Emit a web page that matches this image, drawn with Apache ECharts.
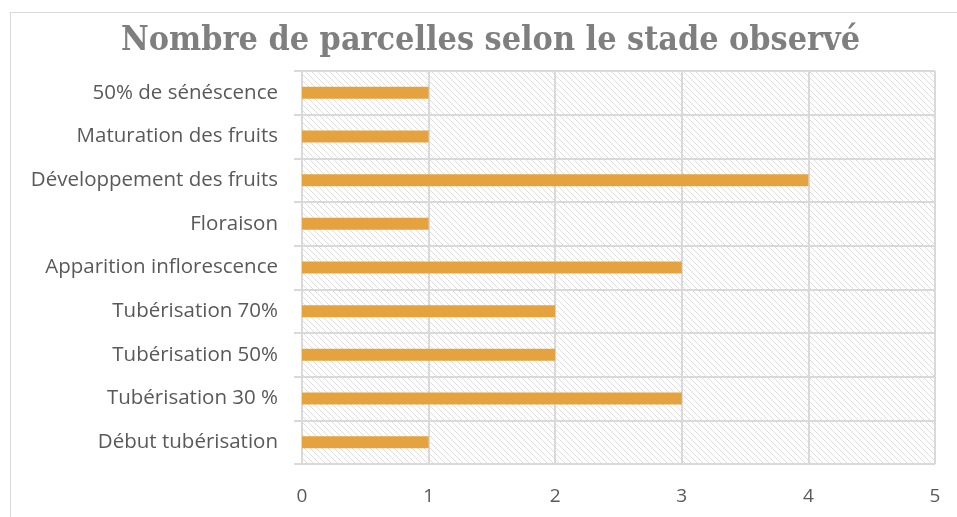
<!DOCTYPE html>
<html lang="fr">
<head>
    <meta charset="UTF-8">
    <title>Nombre de parcelles selon le stade observé</title>
    <script src="https://cdn.jsdelivr.net/npm/echarts@6/dist/echarts.min.js"></script>
    <style>
        html, body {
            margin: 0;
            padding: 0;
            background: #fff;
            overflow: hidden;
        }
        #frame {
            position: absolute;
            left: 10px;
            top: 12px;
            width: 1000px;
            height: 600px;
            border: 1px solid #d9d9d9;
        }
        #chart {
            position: absolute;
            left: 0;
            top: 0;
            width: 957px;
            height: 517px;
        }
    </style>
</head>
<body>
<div id="frame"></div>
<div id="chart"></div>
<script>
    var stades = ['50% de sénéscence', 'Maturation des fruits', 'Développement des fruits', 'Floraison',
        'Apparition inflorescence', 'Tubérisation 70%', 'Tubérisation 50%', 'Tubérisation 30 %', 'Début tubérisation'];
    var parcelles = [1, 1, 4, 1, 3, 2, 2, 3, 1];
    var xTicks = [0, 1, 2, 3, 4, 5];

    // hachures du fond
    function hatch() {
        var c = document.createElement('canvas');
        c.width = 6;
        c.height = 6;
        var ctx = c.getContext('2d');
        ctx.strokeStyle = '#dedede';
        ctx.lineWidth = 1;
        ctx.beginPath();
        ctx.moveTo(-1, -1);
        ctx.lineTo(7, 7);
        ctx.moveTo(-1, 5);
        ctx.lineTo(1, 7);
        ctx.moveTo(5, -1);
        ctx.lineTo(7, 1);
        ctx.stroke();
        return c;
    }

    var myChart = echarts.init(document.getElementById('chart'));
    myChart.setOption({
        animation: false,
        title: {
            text: 'Nombre de parcelles selon le stade observé',
            left: 116,
            top: 19,
            textStyle: {
                fontFamily: '"DejaVu Serif Condensed", "Liberation Serif", serif',
                fontWeight: 'bold',
                fontSize: 33.8,
                color: '#7f7f7f'
            }
        },
        grid: {
            left: 302,
            right: 22,
            top: 71,
            bottom: 53,
            show: true,
            borderWidth: 0,
            backgroundColor: {image: hatch(), repeat: 'repeat'}
        },
        xAxis: {
            type: 'value',
            min: xTicks[0],
            max: xTicks[xTicks.length - 1],
            interval: 1,
            axisLine: {show: false},
            axisTick: {show: false},
            axisLabel: {
                margin: 23,
                fontFamily: 'Open Sans',
                fontSize: 19,
                color: '#595959'
            },
            splitLine: {lineStyle: {color: '#d9d9d9', width: 2}}
        },
        yAxis: {
            type: 'category',
            data: stades,
            inverse: true,
            axisLine: {show: true, lineStyle: {color: '#d9d9d9', width: 2}},
            axisTick: {show: true, length: 8, lineStyle: {color: '#d9d9d9', width: 2}},
            axisLabel: {
                margin: 24,
                fontFamily: 'Open Sans',
                fontSize: 20.5,
                color: '#595959'
            },
            splitLine: {show: true, lineStyle: {color: '#d9d9d9', width: 2}}
        },
        series: [{
            type: 'bar',
            data: parcelles,
            barWidth: 12,
            itemStyle: {color: '#e5a340'}
        }]
    });
</script>
</body>
</html>
